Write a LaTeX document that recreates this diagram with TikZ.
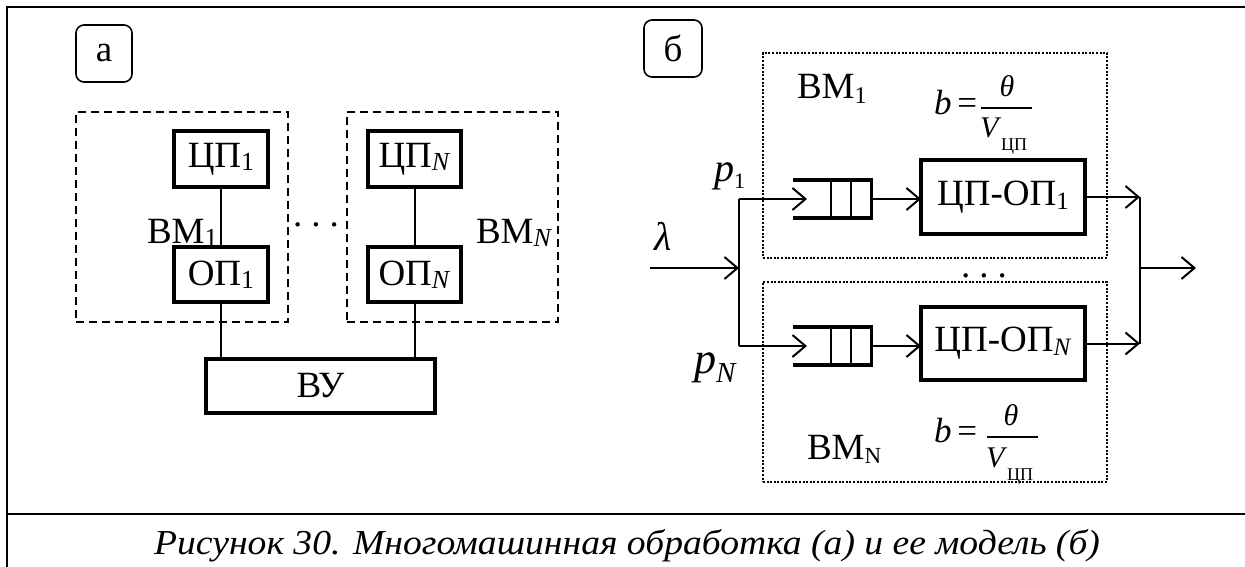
\documentclass[tikz,border=0pt]{standalone}
\usepackage{fontspec}
\setmainfont{Liberation Serif}
\newfontfamily\capfont[FakeStretch=1.075]{Liberation Serif}
\usetikzlibrary{arrows.meta,calc}
\newcommand{\fsz}{\fontsize{37}{42}\selectfont}
\newcommand{\lsub}[3]{\raisebox{-#1pt}{\fontsize{#2}{#2}\selectfont #3}}
\begin{document}
\begin{tikzpicture}[x=1pt,y=-1pt,
  every node/.style={inner sep=0pt, outer sep=0pt, font=\fsz},
  thickbox/.style={draw, line width=4.2pt},
  thinline/.style={line width=2pt},
  dashbox/.style={draw, line width=1.5pt, dash pattern=on 8pt off 5pt},
  dotbox/.style={draw, line width=2pt, dash pattern=on 2pt off 1.6pt},
  labelbox/.style={draw, line width=1.6pt, rounded corners=8pt},
  arr/.style={line width=2pt, -{Straight Barb[length=13pt,width=22pt,line width=2pt]}},
  eqpart/.style={font=\fontsize{35}{38}\selectfont},
  fracpart/.style={font=\fontsize{30}{33}\selectfont},
  frameline/.style={line width=1.6pt}]
\useasboundingbox (0,0) rectangle (1245,567);

% frame
\coordinate (ftr) at (1245,7);
\coordinate (fbl) at (7,567);
\coordinate (dl) at (7,514);
\coordinate (dr) at (1245,514);
\draw[frameline] (ftr) -| (fbl);
\draw[line width=2.2pt] (dl) -- (dr);

% ---------- panel a ----------
\node[labelbox, minimum width=56pt, minimum height=57pt] (la) at (104,53.5) {а};
\node[dashbox, minimum width=212pt, minimum height=210pt] (vm1) at (182,217) {};
\node[dashbox, minimum width=211pt, minimum height=210pt] (vmN) at (452.5,217) {};
\node[thickbox, minimum width=94pt, minimum height=56pt] (cp1) at (221,159) {ЦП\lsub{3}{26}{1}};
\node[thickbox, minimum width=94pt, minimum height=55pt] (op1) at (221,274.5) {ОП\lsub{3}{26}{1}};
\node[thickbox, minimum width=93pt, minimum height=56pt] (cpN) at (414.5,159) {ЦП\lsub{3}{26}{\textit{N}}};
\node[thickbox, minimum width=93pt, minimum height=55pt] (opN) at (414.5,274.5) {ОП\lsub{3}{26}{\textit{N}}};
\node[thickbox, minimum width=229pt, minimum height=54pt] (vu) at (320.5,386) {ВУ};
\draw[thinline] (cp1) -- (op1);
\draw[thinline] (cpN) -- (opN);
\draw[thinline] (op1.south) -- (op1.south |- vu.north);
\draw[thinline] (opN.south) -- (opN.south |- vu.north);
\node[anchor=base west] (tvm1) at (147,243) {ВМ\lsub{3}{26}{1}};
\node[anchor=base west] (tvmN) at (476,243) {ВМ\lsub{3}{26}{\textit{N}}};
\node[anchor=base] (dotsa) at (316,226) {.\hspace{9pt}.\hspace{9pt}.};

% ---------- panel b ----------
\node[labelbox, minimum width=58pt, minimum height=57pt] (lb) at (673,48.5) {б};
\node[dotbox, minimum width=344pt, minimum height=205pt] (bm1) at (935,155.5) {};
\node[dotbox, minimum width=344pt, minimum height=200pt] (bmN) at (935,382) {};

\node[anchor=base west] (tbm1) at (797,99) {ВМ\lsub{5}{24}{1}};
\node[anchor=base west] (tbmN) at (807,459) {ВМ\lsub{4}{23}{N}};

% formula 1
\node[eqpart, anchor=base west] (f1b) at (934,115) {\textit{b}\,=};
\coordinate (f1l) at (981,108);
\coordinate (f1r) at (1032,108);
\draw[line width=1.5pt] (f1l) -- (f1r);
\node[fracpart, anchor=base] (f1n) at (1007,97) {\textit{θ}};
\node[fracpart, anchor=base west] (f1d) at (980,138) {\textit{V}\lsub{13}{18}{ЦП}};
% formula 2
\node[eqpart, anchor=base west] (f2b) at (934,442) {\textit{b}\,=};
\coordinate (f2l) at (987,437);
\coordinate (f2r) at (1038,437);
\draw[line width=1.5pt] (f2l) -- (f2r);
\node[fracpart, anchor=base] (f2n) at (1011,425) {\textit{θ}};
\node[fracpart, anchor=base west] (f2d) at (986,467) {\textit{V}\lsub{13}{18}{ЦП}};

% queues
\node[minimum width=78pt, minimum height=38pt] (q1) at (832,199) {};
\node[minimum width=78pt, minimum height=38pt] (qN) at (832,346) {};
\foreach \q in {q1,qN}{
  \draw[line width=4pt] (\q.north west) -- (\q.north east);
  \draw[line width=4pt] (\q.south west) -- (\q.south east);
  \draw[line width=3pt] ($(\q.north east)+(0,-2)$) -- ($(\q.south east)+(0,2)$);
  \draw[line width=1.8pt] ($(\q.north east)+(-40,0)$) -- ($(\q.south east)+(-40,0)$);
  \draw[line width=1.8pt] ($(\q.north east)+(-20,0)$) -- ($(\q.south east)+(-20,0)$);
}
\coordinate (q1in) at ($(q1.west)+(14,0)$);
\coordinate (qNin) at ($(qN.west)+(14,0)$);

\node[thickbox, minimum width=164pt, minimum height=74pt] (s1) at (1003,197) {ЦП-ОП\lsub{4}{25}{1}};
\node[thickbox, minimum width=164pt, minimum height=73pt] (sN) at (1003,343.5) {ЦП-ОП\lsub{4}{25}{\textit{N}}};

\coordinate (in) at (650,268);
\coordinate (splitm) at (739,268);
\coordinate (split1) at (739,199);
\coordinate (splitN) at (739,346);
\coordinate (join1) at (1140,197);
\coordinate (joinN) at (1140,343.5);
\coordinate (joinm) at (1140,268);
\coordinate (out) at (1196,268);

\draw[arr] (in) -- (splitm);
\draw[line width=2pt] (split1) -- (splitN);
\draw[arr] (split1) -- (q1in);
\draw[arr] (splitN) -- (qNin);
\draw[arr] (q1.east) -- (q1.east -| s1.west);
\draw[arr] (qN.east) -- (qN.east -| sN.west);
\draw[arr] (s1.east) -- (join1);
\draw[arr] (sN.east) -- (joinN);
\draw[line width=2pt] (join1) -- (joinN);
\draw[arr] (joinm) -- (out);

\node[anchor=base west, font=\fontsize{40}{44}\selectfont] (p1) at (714,181) {\textit{p}\lsub{7}{22}{1}};
\node[anchor=base west, font=\fontsize{44}{48}\selectfont] (pN) at (694,373) {\textit{p}\lsub{9}{29}{\textit{N}}};
\node[anchor=base west, font=\fontsize{40}{44}\selectfont] (lam) at (654,250) {\textit{λ}};
\node[anchor=base] (dotsb) at (984,277) {.\hspace{9pt}.\hspace{9pt}.};

% caption
\node[anchor=base, font=\capfont\itshape\fontsize{35}{40}\selectfont] (cap) at (627,554) {Рисунок 30. Многомашинная обработка (а) и ее модель (б)};
\end{tikzpicture}
\end{document}
